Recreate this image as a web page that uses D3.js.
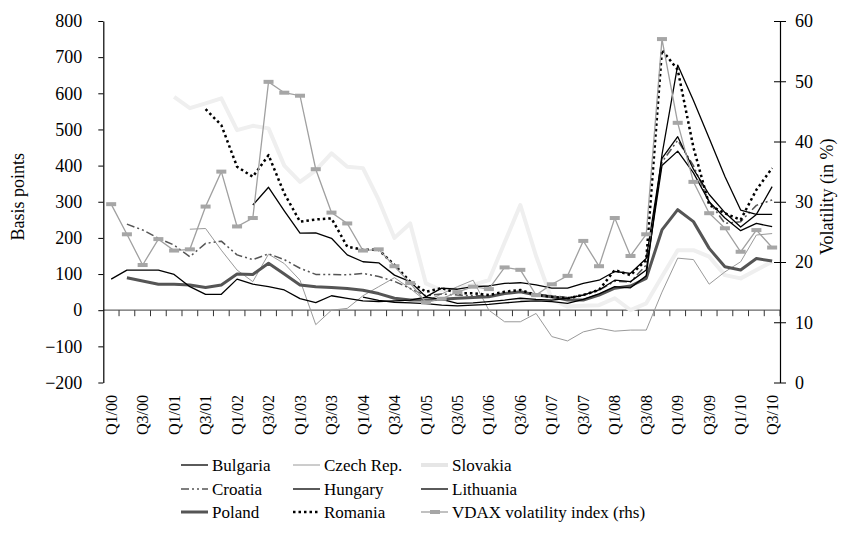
<!DOCTYPE html>
<html>
<head>
<meta charset="utf-8">
<script src="https://cdn.jsdelivr.net/npm/d3@7"></script>
<style>
    body { margin: 0; background: #fff; }
    svg text { font-family: 'Liberation Serif', 'Times New Roman', Times, serif; fill: #000; }
</style>
</head>
<body>
<svg id="chart"></svg>
<script>
// quarters Q1/00 .. Q3/10
var quarters = ['Q1/00', 'Q2/00', 'Q3/00', 'Q4/00', 'Q1/01', 'Q2/01', 'Q3/01', 'Q4/01',
    'Q1/02', 'Q2/02', 'Q3/02', 'Q4/02', 'Q1/03', 'Q2/03', 'Q3/03', 'Q4/03',
    'Q1/04', 'Q2/04', 'Q3/04', 'Q4/04', 'Q1/05', 'Q2/05', 'Q3/05', 'Q4/05',
    'Q1/06', 'Q2/06', 'Q3/06', 'Q4/06', 'Q1/07', 'Q2/07', 'Q3/07', 'Q4/07',
    'Q1/08', 'Q2/08', 'Q3/08', 'Q4/08', 'Q1/09', 'Q2/09', 'Q3/09', 'Q4/09',
    'Q1/10', 'Q2/10', 'Q3/10'];

var _ = null;

// spreads, basis points (lhs)
var bulgaria = [_, _, _, _, _, _, _, _, _, 291, 340, 275, 213, 214, 199, 153, 134, 131, 97, 79,
    37, 61, 58, 65, 67, 74, 76, 70, 61, 61, 74, 83, 107, 102, 143, 420, 480, 390, 320, 270,
    230, 265, 342];
var czech = [_, _, _, _, _, 224, 226, 166, 111, 79, 155, 129, 83, -40, 0, 5, 40, 65, 90, 60,
    25, 45, 65, 83, 0, -32, -32, -9, -73, -85, -60, -50, -58, -55, -55, 50, 144, 140, 72, 106,
    134, 208, 212];
var slovakia = [_, _, _, _, 590, 559, 572, 586, 498, 510, 503, 400, 355, 387, 434, 397, 393, 305, 200, 240,
    74, 55, 60, 70, 83, 187, 291, 150, 30, 10, 12, 14, 33, 0, 19, 93, 166, 166, 148, 97,
    88, 111, 134];
var croatia = [_, 238, 222, 199, 180, 148, 185, 191, 153, 140, 156, 140, 116, 99, 99, 98, 102, 93, 80, 60,
    40, 45, 42, 40, 40, 47, 50, 45, 40, 35, 42, 55, 80, 78, 125, 410, 470, 400, 300, 240,
    245, 290, 305];
var hungary = [86, 111, 111, 111, 99, 65, 44, 44, 86, 72, 65, 56, 32, 21, 40, 33, 26, 24, 26, 28,
    36, 30, 19, 20, 24, 28, 33, 30, 28, 33, 42, 56, 83, 79, 111, 400, 440, 380, 300, 255,
    220, 240, 231];
var lithuania = [_, _, _, _, _, _, _, _, _, _, _, _, _, _, _, _, 36, 27, 22, 20,
    18, 14, 12, 14, 16, 20, 24, 26, 24, 19, 30, 45, 65, 62, 95, 430, 678, 580, 476, 370,
    277, 265, 265];
var poland = [_, 90, 81, 72, 72, 70, 63, 70, 100, 99, 130, 100, 70, 65, 63, 60, 55, 46, 33, 28,
    28, 30, 33, 35, 37, 46, 51, 42, 37, 28, 28, 42, 61, 67, 88, 222, 278, 245, 171, 120,
    111, 143, 136];
var romania = [_, _, _, _, _, _, 556, 512, 397, 369, 429, 323, 245, 251, 254, 176, 167, 167, 125, 79,
    51, 61, 47, 47, 42, 51, 56, 42, 37, 33, 42, 56, 111, 97, 139, 720, 665, 450, 291, 268,
    250, 333, 393];

// VDAX volatility index, % (rhs)
var vdax = [29.6, 24.6, 19.5, 23.8, 21.9, 22.1, 29.2, 35.0, 25.9, 27.3, 49.9, 48.1, 47.6, 35.4, 28.2, 26.4, 21.9, 22.1, 19.3, 16.5,
    13.3, 13.9, 15.0, 15.9, 15.5, 19.1, 18.7, 14.5, 16.3, 17.7, 23.5, 19.3, 27.3, 21.0, 24.6, 57.0, 43.1, 33.3, 28.1, 25.6,
    21.7, 25.3, 22.4];

var leftTicks = [-200, -100, 0, 100, 200, 300, 400, 500, 600, 700, 800];
var rightTicks = [0, 10, 20, 30, 40, 50, 60];

var svgWidth = 847,
    svgHeight = 543;
var plotLeft = 103.3,
    plotRight = 780,
    plotTop = 21,
    plotBottom = 382.5;

var svg = d3.select('#chart')
    .attr('width', svgWidth)
    .attr('height', svgHeight);

var x = d3.scaleBand()
    .domain(quarters)
    .range([plotLeft, plotRight])
    .paddingInner(0)
    .paddingOuter(0);
var bw = x.bandwidth();

var yLeft = d3.scaleLinear()
    .domain([-200, 800])
    .range([plotBottom, plotTop]);
var yRight = d3.scaleLinear()
    .domain([0, 60])
    .range([plotBottom, plotTop]);

// series styles
var series = [
    {name: 'Slovakia', data: slovakia, color: '#efefef', width: 4, dash: null},
    {name: 'Czech Rep.', data: czech, color: '#9a9a9a', width: 1, dash: null},
    {name: 'Poland', data: poland, color: '#555', width: 3, dash: null},
    {name: 'Croatia', data: croatia, color: '#555', width: 1.5, dash: '8,3,2,3,2,3'},
    {name: 'Hungary', data: hungary, color: '#000', width: 1.3, dash: null},
    {name: 'Lithuania', data: lithuania, color: '#000', width: 1.3, dash: null},
    {name: 'Bulgaria', data: bulgaria, color: '#000', width: 1.3, dash: null},
    {name: 'Romania', data: romania, color: '#000', width: 2.5, dash: '2.5,3'}
];

// x axis at zero
var xAxisY = yLeft(0);
svg.append('line')
    .attr('x1', plotLeft)
    .attr('x2', plotRight)
    .attr('y1', xAxisY)
    .attr('y2', xAxisY)
    .attr('stroke', '#666')
    .attr('stroke-width', 1.2);

svg.selectAll('.xtick')
    .data(quarters)
    .enter()
    .append('line')
    .attr('class', 'xtick')
    .attr('x1', function (d) { return x(d) + bw; })
    .attr('x2', function (d) { return x(d) + bw; })
    .attr('y1', xAxisY)
    .attr('y2', xAxisY + 6)
    .attr('stroke', '#333')
    .attr('stroke-width', 1);

svg.selectAll('.xlabel')
    .data(quarters.filter(function (d, i) { return i % 2 === 0; }))
    .enter()
    .append('text')
    .attr('class', 'xlabel')
    .attr('transform', function (d) {
        return 'translate(' + (x(d) + bw / 2) + ',' + 395 + ') rotate(-90)';
    })
    .attr('text-anchor', 'end')
    .attr('dy', '0.35em')
    .style('font-size', '16px')
    .text(function (d) { return d; });

// left axis
var yAxisL = d3.axisLeft(yLeft)
    .tickValues(leftTicks)
    .tickSizeInner(5)
    .tickSizeOuter(0)
    .tickPadding(16);
var gL = svg.append('g')
    .attr('transform', 'translate(' + plotLeft + ',0)')
    .call(yAxisL);
gL.select('.domain').attr('stroke', '#000').attr('stroke-width', 1.2);
gL.selectAll('.tick line').attr('stroke', '#000');
gL.selectAll('.tick text')
    .style('font-size', '18px');

// right axis
var yAxisR = d3.axisRight(yRight)
    .tickValues(rightTicks)
    .tickSizeInner(6)
    .tickSizeOuter(0)
    .tickPadding(9);
var gR = svg.append('g')
    .attr('transform', 'translate(' + plotRight + ',0)')
    .call(yAxisR);
gR.select('.domain').attr('stroke', '#000').attr('stroke-width', 1.2);
gR.selectAll('.tick line').attr('x1', -6).attr('stroke', '#000');
gR.selectAll('.tick text')
    .style('font-size', '18px');

// axis titles
svg.append('text')
    .attr('transform', 'translate(24,' + ((plotTop + plotBottom) / 2 - 5) + ') rotate(-90)')
    .attr('text-anchor', 'middle')
    .style('font-size', '18px')
    .text('Basis points');
svg.append('text')
    .attr('transform', 'translate(833,' + ((plotTop + plotBottom) / 2 - 5) + ') rotate(-90)')
    .attr('text-anchor', 'middle')
    .style('font-size', '18px')
    .text('Volatility (in %)');

// country lines
var line = d3.line()
    .defined(function (d) { return d !== null; })
    .x(function (d, i) { return x(quarters[i]) + bw / 2; })
    .y(function (d) { return yLeft(d); });

svg.selectAll('.country')
    .data(series)
    .enter()
    .append('path')
    .attr('class', 'country')
    .attr('fill', 'none')
    .attr('stroke', function (d) { return d.color; })
    .attr('stroke-width', function (d) { return d.width; })
    .attr('stroke-dasharray', function (d) { return d.dash; })
    .attr('stroke-linejoin', 'round')
    .attr('d', function (d) { return line(d.data); });

// VDAX (rhs)
var vdaxLine = d3.line()
    .x(function (d, i) { return x(quarters[i]) + bw / 2; })
    .y(function (d) { return yRight(d); });

svg.append('path')
    .datum(vdax)
    .attr('fill', 'none')
    .attr('stroke', '#a0a0a0')
    .attr('stroke-width', 1.3)
    .attr('d', vdaxLine);

svg.selectAll('.vmark')
    .data(vdax)
    .enter()
    .append('rect')
    .attr('class', 'vmark')
    .attr('x', function (d, i) { return x(quarters[i]) + bw / 2 - 5; })
    .attr('y', function (d) { return yRight(d) - 2; })
    .attr('width', 10)
    .attr('height', 4)
    .attr('fill', '#a6a6a6');

// legend
var legendItems = [
    {name: 'Bulgaria', color: '#000', width: 1.3, dash: null, col: 0, row: 0},
    {name: 'Czech Rep.', color: '#9a9a9a', width: 1, dash: null, col: 1, row: 0},
    {name: 'Slovakia', color: '#e6e6e6', width: 4, dash: null, col: 2, row: 0},
    {name: 'Croatia', color: '#555', width: 1.5, dash: '8,3,2,3,2,3', col: 0, row: 1},
    {name: 'Hungary', color: '#000', width: 1.3, dash: null, col: 1, row: 1},
    {name: 'Lithuania', color: '#000', width: 1.3, dash: null, col: 2, row: 1},
    {name: 'Poland', color: '#555', width: 3, dash: null, col: 0, row: 2},
    {name: 'Romania', color: '#000', width: 2.5, dash: '2.5,3', col: 1, row: 2},
    {name: 'VDAX volatility index (rhs)', color: '#a0a0a0', width: 1.3, dash: null, col: 2, row: 2, marker: true}
];
var colX = [181, 293, 421],
    rowY = [465, 489, 512];

var leg = svg.selectAll('.legend')
    .data(legendItems)
    .enter()
    .append('g')
    .attr('class', 'legend')
    .attr('transform', function (d) {
        return 'translate(' + colX[d.col] + ',' + rowY[d.row] + ')';
    });

leg.append('line')
    .attr('x1', 0)
    .attr('x2', 27)
    .attr('stroke', function (d) { return d.color; })
    .attr('stroke-width', function (d) { return d.width; })
    .attr('stroke-dasharray', function (d) { return d.dash; });

leg.filter(function (d) { return d.marker; })
    .append('rect')
    .attr('x', 9)
    .attr('y', -2)
    .attr('width', 10)
    .attr('height', 4)
    .attr('fill', '#a6a6a6');

leg.append('text')
    .attr('x', 31)
    .attr('dy', '0.35em')
    .style('font-size', '17px')
    .text(function (d) { return d.name; });
</script>
</body>
</html>
